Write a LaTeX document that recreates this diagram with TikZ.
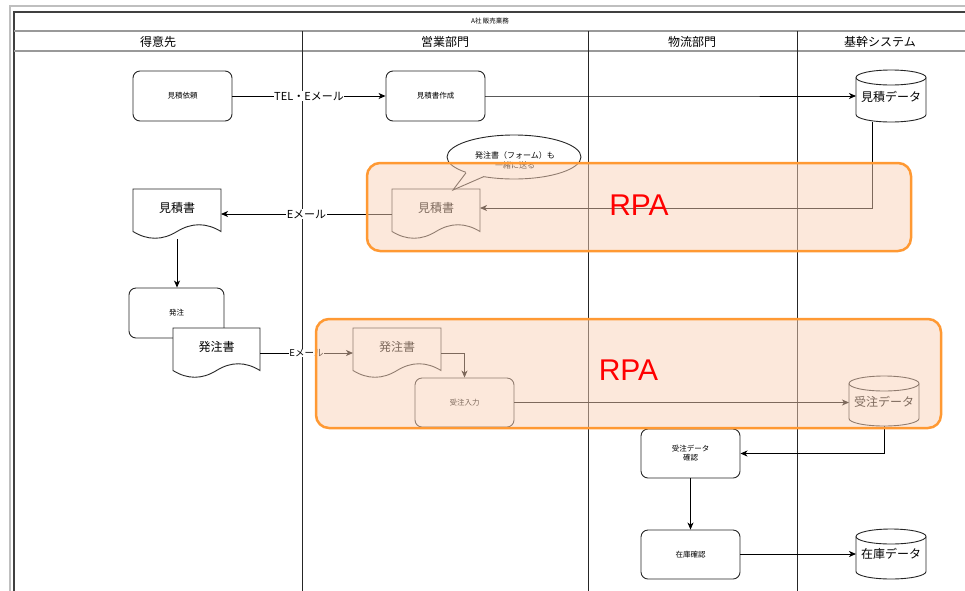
\documentclass[tikz,border=0pt]{standalone}
\usepackage{fontspec}
\setmainfont{Noto Sans CJK JP}
\newfontfamily\rpafont{Liberation Sans}
\usetikzlibrary{arrows.meta,calc}

\definecolor{rpaorange}{RGB}{255,153,51}
\definecolor{rpafill}{RGB}{251,211,185}
\definecolor{rpared}{RGB}{255,0,0}

% document shape: name, left, top, width, height
\newcommand\docshape[5]{%
  \pgfmathsetmacro\dL{#2}\pgfmathsetmacro\dT{#3}%
  \pgfmathsetmacro\dW{#4}\pgfmathsetmacro\dH{#5}%
  \pgfmathsetmacro\dY{0.3*\dH}%
  \pgfmathsetmacro\dR{\dL+\dW}%
  \pgfmathsetmacro\dE{\dT+\dH-0.5*\dY}%
  \pgfmathsetmacro\dUp{\dT+\dH-1.1*\dY}%
  \pgfmathsetmacro\dDn{\dT+\dH+0.1*\dY}%
  \path[shapeline] (\dL,\dT) -- (\dR,\dT) -- (\dR,\dE)
    .. controls (\dL+5*\dW/6,\dUp) and (\dL+2*\dW/3,\dUp) .. (\dL+\dW/2,\dE)
    .. controls (\dL+\dW/3,\dDn) and (\dL+\dW/6,\dDn) .. (\dL,\dE) -- cycle;
  \node[hold, minimum width=\dW pt, minimum height=\dH pt, anchor=north west] (#1) at (\dL,\dT) {};
}

% cylinder shape: name, left, top, width, height
\newcommand\cylshape[5]{%
  \pgfmathsetmacro\cL{#2}\pgfmathsetmacro\cT{#3}%
  \pgfmathsetmacro\cW{#4}\pgfmathsetmacro\cH{#5}%
  \pgfmathsetmacro\cR{\cL+\cW}\pgfmathsetmacro\cX{\cL+\cW/2}%
  \pgfmathsetmacro\kx{0.5523*\cW/2}\pgfmathsetmacro\ky{0.5523*7.5}%
  \pgfmathsetmacro\yt{\cT+7.5}\pgfmathsetmacro\yb{\cT+\cH-7.5}%
  \path[shapeline] (\cL,\yt) -- (\cL,\yb)
    .. controls (\cL,\yb+\ky) and (\cX-\kx,\yb+7.5) .. (\cX,\yb+7.5)
    .. controls (\cX+\kx,\yb+7.5) and (\cR,\yb+\ky) .. (\cR,\yb)
    -- (\cR,\yt)
    .. controls (\cR,\yt-\ky) and (\cX+\kx,\yt-7.5) .. (\cX,\yt-7.5)
    .. controls (\cX-\kx,\yt-7.5) and (\cL,\yt-\ky) .. (\cL,\yt) -- cycle;
  \draw[shapeline, fill=none] (\cL,\yt)
    .. controls (\cL,\yt+\ky) and (\cX-\kx,\yt+7.5) .. (\cX,\yt+7.5)
    .. controls (\cX+\kx,\yt+7.5) and (\cR,\yt+\ky) .. (\cR,\yt);
  \node[hold, minimum width=\cW pt, minimum height=\cH pt, anchor=north west] (#1) at (\cL,\cT) {};
}

\begin{document}
\begin{tikzpicture}[x=1pt, y=-1pt,
  hold/.style={inner sep=0pt, outer sep=0pt},
  shapeline/.style={draw=black!85, line width=0.9pt, fill=white},
  proc/.style={draw=black!85, line width=0.9pt, rounded corners=7pt, fill=white,
    inner sep=0pt, align=center, font=\fontsize{7.5}{9}\selectfont},
  bigtxt/.style={inner sep=0pt, font=\fontsize{12}{14}\selectfont},
  headtxt/.style={inner sep=0pt, font=\fontsize{12}{14}\selectfont},
  arr/.style={draw=black, line width=0.9pt, -{Stealth[length=7pt,width=6pt,inset=2pt]}},
  lbl/.style={fill=white, inner sep=0.5pt, font=\fontsize{11}{13}\selectfont},
  lblsmall/.style={fill=white, inner sep=0.5pt, font=\fontsize{9.5}{11}\selectfont},
  rpabox/.style={draw=rpaorange, line width=2.5pt, rounded corners=13pt,
    fill=rpafill, fill opacity=0.5, draw opacity=1},
  rpatxt/.style={inner sep=0pt, text=rpared, font=\rpafont\fontsize{30}{36}\selectfont},
  framepale/.style={draw=black!25, line width=2pt},
  framedark/.style={draw=black!75, line width=1.3pt},
  rowline/.style={draw=black!40, line width=1.8pt},
  laneline/.style={draw=black!85, line width=0.9pt}]

\clip (0,0) rectangle (965,590);
\fill[white] (0,0) rectangle (965,590);

% swimlane frame
\draw[framepale] (10,600) -- (10,6) -- (975,6);
\draw[framedark] (14,600) -- (14,12) -- (975,12);
\draw[rowline] (14,31) -- (975,31);
\draw[rowline] (14,51) -- (975,51);
\foreach \x in {302,588,797} \draw[laneline] (\x,31) -- (\x,600);

\node[inner sep=0pt, font=\fontsize{6.5}{8}\selectfont] (title) at (490,21.5) {A社 販売業務};
\node[headtxt] (lane1) at (158,42) {得意先};
\node[headtxt] (lane2) at (445,42) {営業部門};
\node[headtxt] (lane3) at (692,42) {物流部門};
\node[headtxt] (lane4) at (880,42) {基幹システム};

% estimate flow
\node[proc, minimum width=99pt, minimum height=50pt] (req) at (182.5,96) {見積依頼};
\node[proc, minimum width=99pt, minimum height=50pt] (make) at (435.5,96) {見積書作成};
\cylshape{kd}{856}{70}{70}{52}
\node[bigtxt] (kdt) at (891,97) {見積データ};

\docshape{md1}{133}{189}{88}{50}
\node[bigtxt] (md1t) at ([yshift=6pt]md1.center) {見積書};
\docshape{md2}{392}{189}{88}{50}
\node[bigtxt] (md2t) at ([yshift=6pt]md2.center) {見積書};

% order flow
\node[proc, minimum width=95pt, minimum height=50pt] (hc) at (176.5,313) {発注};
\docshape{hd1}{173}{328}{87}{50}
\node[bigtxt] (hd1t) at ([yshift=6pt]hd1.center) {発注書};
\docshape{hd2}{353}{328}{88}{50}
\node[bigtxt] (hd2t) at ([yshift=6pt]hd2.center) {発注書};
\node[proc, minimum width=99pt, minimum height=49pt] (jn) at (464.5,402.5) {受注入力};
\cylshape{jd}{849}{376}{70}{50}
\node[bigtxt] (jdt) at (884,402) {受注データ};
\node[proc, minimum width=99pt, minimum height=49pt] (jk) at (690.5,453.5) {受注データ\\確認};
\node[proc, minimum width=99pt, minimum height=49pt] (zk) at (690.5,554.5) {在庫確認};
\cylshape{zd}{856}{529}{70}{50}
\node[bigtxt] (zdt) at (891,554) {在庫データ};

% connectors
\draw[arr] (req) -- (make) node[lbl, midway] (l1) {TEL・Eメール};
\draw[arr] (make.east) -- ++(185,0) |- (kd.west);
\draw[arr] ([xshift=-19pt]kd.south) |- ([yshift=6pt]md2.east);
\draw[arr] (md2.west) -- (md1.east) node[lbl, midway] (l2) {Eメール};
\draw[arr] (md1.south) -- (md1.south |- hc.north);
\draw[arr] (hd1.east) -- (hd2.west) node[lblsmall, midway] (l3) {Eメール};
\draw[arr] (hd2.east) -| (jn.north);
\draw[arr] (jn.east) -- (jn.east -| jd.west);
\draw[arr] (jd.south) |- (jk.east);
\draw[arr] (jk.south) -- (zk.north);
\draw[arr] (zk.east) -- ++(58,0) |- (zd.west);

% speech bubble
\draw[shapeline] (514,157) ellipse [x radius=67pt, y radius=22pt];
\fill[white] (466,172.8) -- (453,190) -- (484,176.5) -- (484,168) -- (466,166) -- cycle;
\draw[shapeline, fill=none] (466,172.8) -- (453,190) -- (484,176.5);
\node[inner sep=0pt, align=center, font=\fontsize{8}{10}\selectfont] (bubble) at (515,160) {発注書（フォーム）も\\一緒に送る};

% RPA regions
\node[rpabox, minimum width=544pt, minimum height=88pt] (rpa1) at (639,207) {};
\node[rpabox, minimum width=625pt, minimum height=109pt] (rpa2) at (628.5,373.5) {};
\node[rpatxt] (rpa1t) at (639,205) {RPA};
\node[rpatxt] (rpa2t) at (628.5,370) {RPA};
\end{tikzpicture}
\end{document}
